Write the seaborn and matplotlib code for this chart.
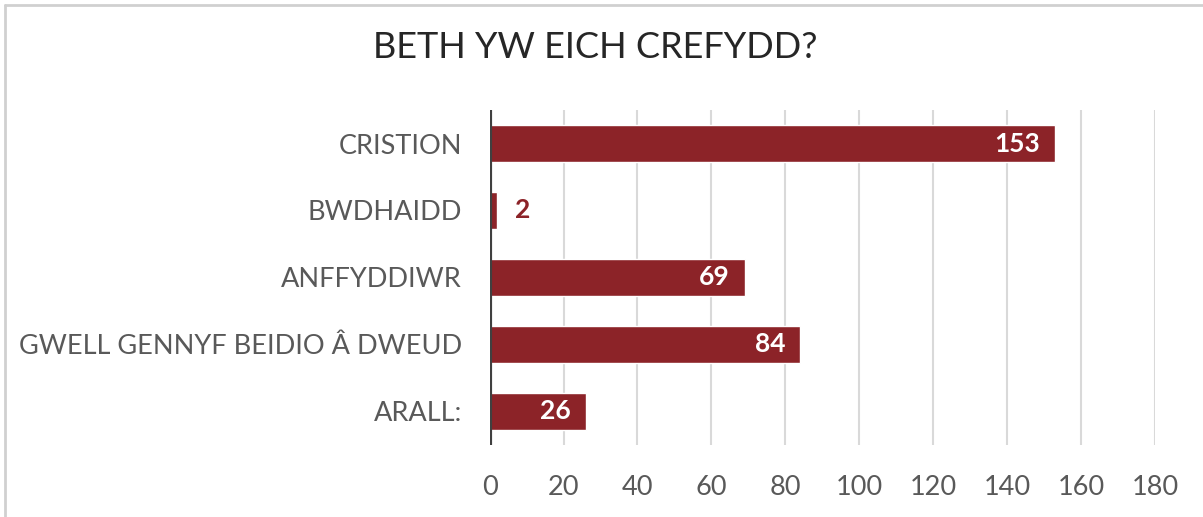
import matplotlib
matplotlib.use("Agg")
import matplotlib.pyplot as plt
import pandas as pd
import seaborn as sns
from matplotlib.lines import Line2D

categories = ["CRISTION", "BWDHAIDD", "ANFFYDDIWR", "GWELL GENNYF BEIDIO Â DWEUD", "ARALL:"]
counts = [153, 2, 69, 84, 26]
xticks = [0, 20, 40, 60, 80, 100, 120, 140, 160, 180]
title = "BETH YW EICH CREFYDD?"

bar_color = "#8c2328"
text_gray = "#595959"

sns.set_style("white")
plt.rcParams["font.family"] = ["Lato", "DejaVu Sans"]

df = pd.DataFrame({"cat": categories, "n": counts})

fig = plt.figure(figsize=(12.03, 5.17), dpi=100)
ax = fig.add_axes([0.407, 0.140, 0.553, 0.647])

sns.barplot(data=df, y="cat", x="n", orient="h", color=bar_color,
            width=0.55, saturation=1, ax=ax, zorder=2)

ax.set_xlim(0, 180)
ax.set_ylim(4.5, -0.5)
ax.set_xticks(xticks)
ax.set_xlabel("")
ax.set_ylabel("")
ax.grid(axis="x", color="#d9d9d9", linewidth=1.5, zorder=0)
for s in ax.spines.values():
    s.set_visible(False)
ax.axvline(0, color="#404040", linewidth=3, zorder=3)
ax.tick_params(axis="y", labelsize=19.5, labelcolor=text_gray, length=0, pad=20)
ax.tick_params(axis="x", labelsize=19.5, labelcolor=text_gray, length=0, pad=22)

for i, v in enumerate(counts):
    if v < 10:
        ax.text(v + 5, i, str(v), ha="left", va="center", color=bar_color,
                fontsize=19, fontweight="bold")
    else:
        ax.text(v - 4, i, str(v), ha="right", va="center", color="white",
                fontsize=19, fontweight="bold")

fig.suptitle(title, x=0.495, y=0.94, fontsize=26, color="#262626")

# partial frame like the screenshot crop
fig.add_artist(Line2D([0.004, 1.0], [0.991, 0.991], transform=fig.transFigure,
                      color="#d0d0d0", linewidth=2))
fig.add_artist(Line2D([0.004, 0.004], [0.0, 0.991], transform=fig.transFigure,
                      color="#d0d0d0", linewidth=2))

fig.savefig("out.png", dpi=100)
